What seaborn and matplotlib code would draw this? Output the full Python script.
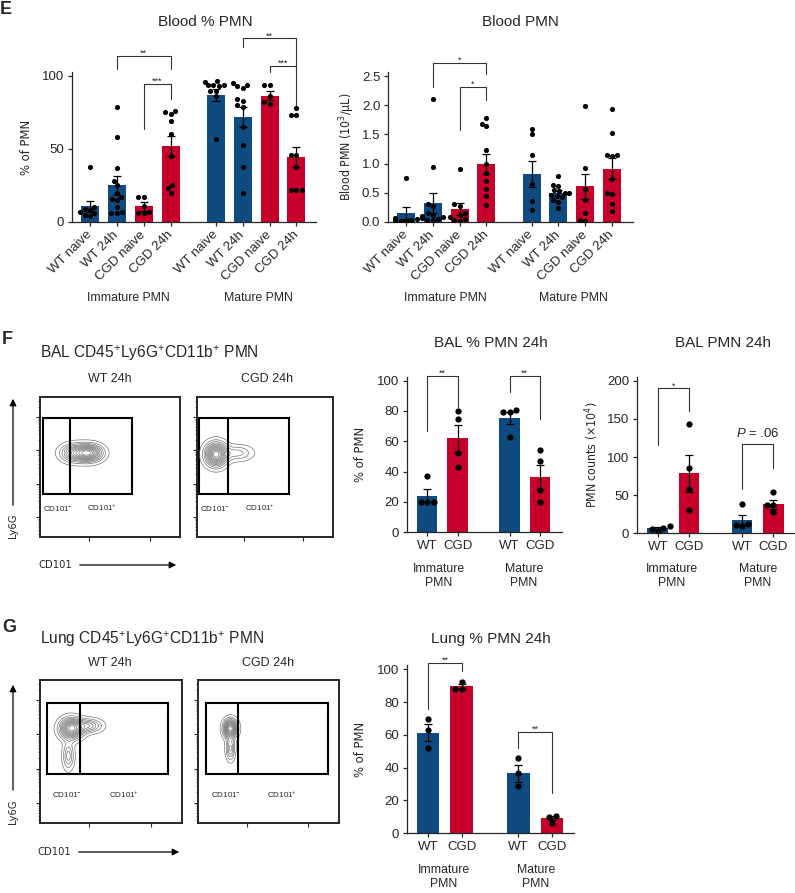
import numpy as np
import matplotlib
matplotlib.use("Agg")
import matplotlib.pyplot as plt
import seaborn as sns
from matplotlib.patches import Rectangle, FancyArrowPatch
from matplotlib import font_manager

sns.set_style("ticks")
plt.rcParams["font.family"] = ["Liberation Sans", "DejaVu Sans"]
plt.rcParams["mathtext.fontset"] = "custom"
plt.rcParams["mathtext.rm"] = "Liberation Sans"
plt.rcParams["mathtext.it"] = "Liberation Sans:italic"
plt.rcParams["mathtext.bf"] = "Liberation Sans:bold"
plt.rcParams["mathtext.default"] = "regular"
plt.rcParams["axes.linewidth"] = 0.9

# condensed face for axis titles, if one is installed
fonts = font_manager.fontManager.ttflist
NARROW_KW = dict(family=["Liberation Sans", "DejaVu Sans"])
NARROW_FS = 8.5
if any(f.name == "Liberation Sans Narrow" for f in fonts):
    NARROW_KW, NARROW_FS = dict(family=["Liberation Sans Narrow", "DejaVu Sans"]), 10
elif any(f.name == "DejaVu Sans" and f.stretch == "condensed" for f in fonts):
    NARROW_KW, NARROW_FS = dict(family="DejaVu Sans", fontstretch="condensed"), 9.3

BLUE = "#0f4a80"
RED = "#c6002b"
pal = {"WT": BLUE, "CGD": RED}

# ---- panel E : blood ----
e_labels = ["WT naive", "WT 24h", "CGD naive", "CGD 24h"] * 2
e_geno = ["WT", "WT", "CGD", "CGD"] * 2
e_pos = [0, 1, 2, 3, 4.68, 5.68, 6.68, 7.68]

blood_pct_mean = [10.7, 25.0, 10.7, 52.0, 87.0, 72.0, 86.6, 44.4]
blood_pct_sem = [3.9, 6.6, 3.0, 7.0, 4.0, 6.8, 2.8, 7.0]
blood_pct_pts = [
    [38, 9, 10, 6, 5, 7, 4, 8],
    [79, 58, 37, 28, 25, 20, 17, 16, 15, 10, 6, 6, 7],
    [17, 17, 11, 7, 6, 6],
    [76, 75, 74, 69, 60, 45, 25, 23, 20],
    [96.5, 96, 94, 94, 94, 93, 90, 90, 86, 57],
    [95, 94, 93, 92, 84, 83, 80, 79, 65, 53, 38, 20],
    [94, 94, 86, 82, 81],
    [78, 73, 73, 46, 46, 38, 22, 22, 22],
]

blood_cnt_mean = [0.15, 0.33, 0.22, 1.00, 0.82, 0.49, 0.61, 0.91]
blood_cnt_sem = [0.10, 0.17, 0.10, 0.17, 0.22, 0.05, 0.22, 0.18]
blood_cnt_pts = [
    [0.76, 0.07, 0.05, 0.03, 0.03, 0.02, 0.02],
    [2.11, 0.95, 0.30, 0.27, 0.15, 0.12, 0.10, 0.08, 0.06, 0.05, 0.04, 0.03],
    [0.91, 0.30, 0.28, 0.15, 0.12, 0.08, 0.05, 0.03, 0.02],
    [1.79, 1.68, 1.64, 1.23, 1.00, 0.84, 0.70, 0.57, 0.44, 0.29],
    [1.60, 1.50, 1.14, 0.65, 0.36, 0.21],
    [0.79, 0.64, 0.62, 0.55, 0.53, 0.50, 0.49, 0.47, 0.45, 0.42, 0.37, 0.35, 0.24],
    [1.98, 0.92, 0.56, 0.38, 0.15, 0.04, 0.02],
    [1.93, 1.53, 1.15, 1.14, 1.13, 0.73, 0.49, 0.48, 0.31, 0.18],
]

# ---- panels F / G ----
f_labels = ["WT", "CGD", "WT", "CGD"]
f_pos = [0, 1, 2.7, 3.7]

bal_pct_mean = [24.2, 62.0, 75.2, 36.5]
bal_pct_sem = [4.3, 9.0, 4.1, 8.2]
bal_pct_pts = [[37, 20, 20, 20], [80, 75, 52.5, 43], [80.5, 79, 79, 63], [54, 47, 28, 20]]

bal_cnt_mean = [6.5, 78.6, 17.5, 38.0]
bal_cnt_sem = [1.4, 24.7, 7.0, 5.5]
bal_cnt_pts = [[3, 9.5, 6, 7.5], [144, 85, 57.5, 30.5], [39, 12, 11, 10], [54.5, 37, 37, 28]]

lung_pct_mean = [61.4, 89.5, 36.5, 9.2]
lung_pct_sem = [5.2, 1.5, 5.0, 1.3]
lung_pct_pts = [[69.5, 63, 51.8], [92.5, 88, 88], [45.7, 36.6, 28.9], [6.5, 10, 10.5]]

# flow contour blobs: (x, y, sx, sy, weight) in axes fraction
bal_wt_blobs = [(0.24, 0.60, 0.06, 0.04, 0.6), (0.35, 0.60, 0.06, 0.038, 1.0)]
bal_cgd_blobs = [(0.14, 0.59, 0.05, 0.052, 1.0), (0.30, 0.60, 0.07, 0.035, 0.25)]
lung_wt_blobs = [(0.22, 0.66, 0.05, 0.045, 1.0), (0.34, 0.68, 0.06, 0.03, 0.45), (0.20, 0.47, 0.025, 0.06, 0.35)]
lung_cgd_blobs = [(0.23, 0.66, 0.03, 0.04, 1.0), (0.23, 0.52, 0.02, 0.05, 0.4)]

W, H = 795, 893
fig = plt.figure(figsize=(W / 100, H / 100), dpi=100)


def add_ax(x0, y0, x1, y1):
    return fig.add_axes([x0 / W, 1 - y1 / H, (x1 - x0) / W, (y1 - y0) / H])


def ftext(x, y, s, **kw):
    kw.setdefault("ha", "center")
    kw.setdefault("va", "center")
    fig.text(x / W, 1 - y / H, s, **kw)


def arrow(x0, y0, x1, y1):
    fig.add_artist(FancyArrowPatch((x0 / W, 1 - y0 / H), (x1 / W, 1 - y1 / H),
                                   transform=fig.transFigure, arrowstyle="-|>",
                                   mutation_scale=10, lw=0.9, color="black"))


def bar_panel(ax, pos, geno, means, sems, points, dot):
    sns.barplot(x=pos, y=means, hue=geno, palette=pal, native_scale=True, orient="x",
                width=0.67, dodge=False, errorbar=None, legend=False, linewidth=0,
                saturation=1, ax=ax)
    ax.errorbar(pos, means, yerr=sems, fmt="none", ecolor="black", elinewidth=0.9,
                capsize=2.8, capthick=0.9, zorder=3)
    px = [p for p, vals in zip(pos, points) for _ in vals]
    py = [v for vals in points for v in vals]
    sns.swarmplot(x=px, y=py, native_scale=True, orient="x", color="black",
                  size=dot, ax=ax, zorder=4)


def style_bar(ax, pos, labels, xlim, ylim, yticks, rotate=False):
    ax.set_xlim(*xlim)
    ax.set_ylim(*ylim)
    ax.set_yticks(yticks)
    ax.set_xticks(pos)
    if rotate:
        ax.set_xticklabels(labels, rotation=45, ha="right", va="center", rotation_mode="anchor")
        ax.tick_params(axis="x", pad=5)
    else:
        ax.set_xticklabels(labels)
        ax.tick_params(axis="x", pad=2.5)
    ax.tick_params(length=3, width=0.9, labelsize=9.5)
    ax.tick_params(axis="y", pad=2.5)
    sns.despine(ax=ax)
    ax.set_xlabel("")
    ax.set_ylabel("")


def bracket(ax, x1, x2, top, y1, y2, label, fs=6.5):
    ax.plot([x1, x1, x2, x2], [y1, top, top, y2], color="0.2", lw=0.8, clip_on=False)
    if label:
        ax.text((x1 + x2) / 2, top, label, ha="center", va="baseline", fontsize=fs,
                clip_on=False)


def flow_panel(ax, blobs, gx0, gx1, gdiv, gy0, gy1, neg_x, pos_x, lab_y):
    ax.set_xscale("log")
    ax.set_yscale("log")
    ax.set_xlim(10 ** 0.4, 10 ** 5)
    ax.set_ylim(10 ** 0.4, 10 ** 4.6)
    for s in ax.spines.values():
        s.set_visible(True)
        s.set_linewidth(1.4)
    ax.tick_params(which="both", direction="out", labelbottom=False, labelleft=False,
                   top=False, right=False)
    ax.tick_params(which="major", length=3, width=0.8)
    ax.tick_params(which="minor", length=1.6, width=0.5)
    ov = ax.inset_axes([0, 0, 1, 1])
    ov.set_xlim(0, 1)
    ov.set_ylim(0, 1)
    ov.set_axis_off()
    gx, gy = np.meshgrid(np.linspace(0, 1, 260), np.linspace(0, 1, 260))
    z = sum(w * np.exp(-((gx - cx) ** 2 / (2 * sx ** 2) + (gy - cy) ** 2 / (2 * sy ** 2)))
            for cx, cy, sx, sy, w in blobs)
    ov.contour(gx, gy, z, levels=z.max() * np.linspace(0.05, 0.93, 12),
               colors="0.4", linewidths=0.45)
    ov.add_patch(Rectangle((gx0, gy0), gx1 - gx0, gy1 - gy0, fill=False, lw=1.5, ec="black"))
    ov.plot([gdiv, gdiv], [gy0, gy1], color="black", lw=1.5)
    ov.text(neg_x, lab_y, r"CD101$^{-}$", fontsize=5.8, ha="left", va="center")
    ov.text(pos_x, lab_y, r"CD101$^{+}$", fontsize=5.8, ha="left", va="center")


# ================= E =================
ax = add_ax(72, 71.6, 316, 222)
bar_panel(ax, e_pos, e_geno, blood_pct_mean, blood_pct_sem, blood_pct_pts, 3.7)
style_bar(ax, e_pos, e_labels, (-0.67, 8.41), (0, 103), [0, 50, 100], rotate=True)
bracket(ax, e_pos[1], e_pos[3], 113.7, 104.5, 104.5, "**")
bracket(ax, e_pos[2], e_pos[3], 94.5, 64, 84, "***")
bracket(ax, e_pos[5], e_pos[7], 125.7, 120, 104.8, "**")
bracket(ax, e_pos[6], e_pos[7], 107, 103, 80, "***")

ax = add_ax(388, 72, 633, 222)
bar_panel(ax, e_pos, e_geno, blood_cnt_mean, blood_cnt_sem, blood_cnt_pts, 3.7)
style_bar(ax, e_pos, e_labels, (-0.67, 8.46), (0, 2.57), [0, 0.5, 1.0, 1.5, 2.0, 2.5], rotate=True)
bracket(ax, e_pos[1], e_pos[3], 2.73, 2.32, 2.53, "*")
bracket(ax, e_pos[2], e_pos[3], 2.31, 1.58, 2.09, "*")

ftext(0, 10, "E", fontsize=13, fontweight="bold", ha="left")
ftext(205, 22, "Blood % PMN", fontsize=11)
ftext(520, 22, "Blood PMN", fontsize=11)
ftext(26, 147, "% of PMN", fontsize=NARROW_FS, rotation=90, **NARROW_KW)
ftext(347, 147, r"Blood PMN (10$^{3}$/μL)", fontsize=NARROW_FS - 0.5, rotation=90, **NARROW_KW)
for x, s in [(128, "Immature PMN"), (258, "Mature PMN"), (445, "Immature PMN"), (573, "Mature PMN")]:
    ftext(x, 298, s, fontsize=8.8)

# ================= F =================
ftext(2, 339, "F", fontsize=13, fontweight="bold", ha="left")
ftext(40, 353, r"BAL CD45$^{+}$Ly6G$^{+}$CD11b$^{+}$ PMN", fontsize=11.2, ha="left")
ftext(110, 379, "WT 24h", fontsize=9)
ftext(267, 379, "CGD 24h", fontsize=9)

ax = add_ax(40, 397, 180, 537)
flow_panel(ax, bal_wt_blobs, 0.02, 0.66, 0.214, 0.307, 0.852, 0.02, 0.336, 0.207)
ax = add_ax(197, 397, 333, 537)
flow_panel(ax, bal_cgd_blobs, 0.015, 0.676, 0.228, 0.307, 0.852, 0.02, 0.35, 0.207)

arrow(13, 508, 13, 396)
ftext(13, 526, "Ly6G", fontsize=8, rotation=90, **NARROW_KW)
ftext(55, 565, "CD101", fontsize=8, **NARROW_KW)
arrow(77, 565, 179, 565)

ax = add_ax(406.7, 377, 561.7, 532.3)
bar_panel(ax, f_pos, f_labels, bal_pct_mean, bal_pct_sem, bal_pct_pts, 4.5)
style_bar(ax, f_pos, f_labels, (-0.67, 4.41), (0, 102.4), [0, 20, 40, 60, 80, 100])
bracket(ax, f_pos[0], f_pos[1], 103, 67, 82.4, "**")
bracket(ax, f_pos[2], f_pos[3], 103, 92.7, 75, "**")

ax = add_ax(637, 377, 795, 533.3)
bar_panel(ax, f_pos, f_labels, bal_cnt_mean, bal_cnt_sem, bal_cnt_pts, 4.5)
style_bar(ax, f_pos, f_labels, (-0.67, 4.40), (0, 205), [0, 50, 100, 150, 200])
bracket(ax, f_pos[0], f_pos[1], 190, 115.7, 160.7, "*")
bracket(ax, f_pos[2], f_pos[3], 116.6, 57.6, 85, "")
ax.text((f_pos[2] + f_pos[3]) / 2, 130.5, r"$\it{P}$ = .06", ha="center", va="center",
        fontsize=9.5, clip_on=False)

ftext(490.7, 343, "BAL % PMN 24h", fontsize=11)
ftext(723, 343, "BAL PMN 24h", fontsize=11)
ftext(360, 454, "% of PMN", fontsize=NARROW_FS, rotation=90, **NARROW_KW)
ftext(592, 454.5, r"PMN counts ($\times$10$^{4}$)", fontsize=NARROW_FS - 0.5, rotation=90, **NARROW_KW)
for x, s in [(439, "Immature\nPMN"), (524, "Mature\nPMN"), (672, "Immature\nPMN"), (757.7, "Mature\nPMN")]:
    ftext(x, 576, s, fontsize=8.8, linespacing=1.25)

# ================= G =================
ftext(2, 628, "G", fontsize=13, fontweight="bold", ha="left")
ftext(40, 639, r"Lung CD45$^{+}$Ly6G$^{+}$CD11b$^{+}$ PMN", fontsize=11.2, ha="left")
ftext(110, 663, "WT 24h", fontsize=9)
ftext(268, 663, "CGD 24h", fontsize=9)

ax = add_ax(40, 680, 182, 823)
flow_panel(ax, lung_wt_blobs, 0.047, 0.90, 0.282, 0.343, 0.841, 0.085, 0.486, 0.2)
ax = add_ax(198, 680, 339, 823)
flow_panel(ax, lung_cgd_blobs, 0.055, 0.92, 0.286, 0.343, 0.841, 0.09, 0.49, 0.2)

arrow(13, 793, 13, 682)
ftext(13, 812, "Ly6G", fontsize=8, rotation=90, **NARROW_KW)
ftext(54, 852, "CD101", fontsize=8, **NARROW_KW)
arrow(76, 852, 182, 852)

ax = add_ax(406.7, 665, 574, 833.3)
bar_panel(ax, f_pos, f_labels, lung_pct_mean, lung_pct_sem, lung_pct_pts, 4.5)
style_bar(ax, f_pos, f_labels, (-0.64, 4.36), (0, 102.6), [0, 20, 40, 60, 80, 100])
bracket(ax, f_pos[0], f_pos[1], 104, 75.6, 99, "**")
bracket(ax, f_pos[2], f_pos[3], 62, 51.8, 24.4, "**")

ftext(490.7, 639, "Lung % PMN 24h", fontsize=11)
ftext(360, 749, "% of PMN", fontsize=NARROW_FS, rotation=90, **NARROW_KW)
for x, s in [(444, "Immature\nPMN"), (536, "Mature\nPMN")]:
    ftext(x, 877, s, fontsize=8.8, linespacing=1.25)

fig.savefig("out.png", dpi=100)
